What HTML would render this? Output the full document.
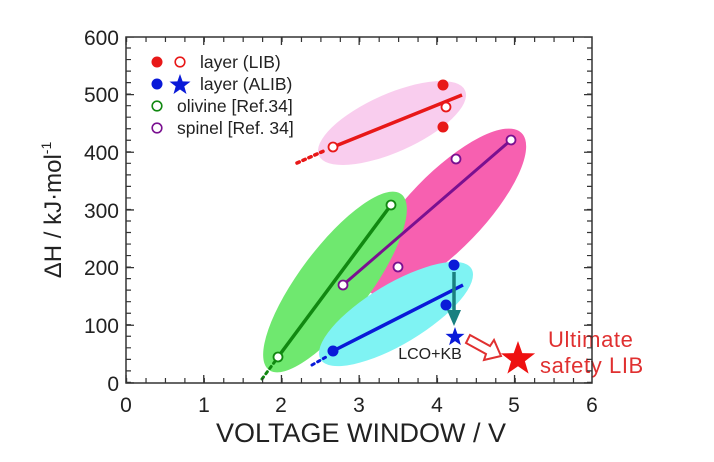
<!DOCTYPE html>
<html><head><meta charset="utf-8"><style>
html,body{margin:0;padding:0;background:#fff;}
svg{display:block;font-family:"Liberation Sans",Arial,sans-serif;}
</style></head><body>
<svg width="714" height="462" viewBox="0 0 714 462" xmlns="http://www.w3.org/2000/svg">
<ellipse cx="392" cy="123" rx="80" ry="29" transform="rotate(-24 392 123)" fill="#f8c8ec" opacity="0.9"/>
<ellipse cx="445" cy="212" rx="110" ry="38" transform="rotate(-46 445 212)" fill="#f760b0"/>
<ellipse cx="335" cy="282" rx="110" ry="35" transform="rotate(-53 335 282)" fill="#6fe86f"/>
<ellipse cx="396" cy="314" rx="88" ry="30" transform="rotate(-31 396 314)" fill="#7ff3f3"/>
<line x1="333" y1="147" x2="462" y2="95" stroke="#e81818" stroke-width="3.5"/>
<line x1="297" y1="163" x2="326" y2="150" stroke="#e81818" stroke-width="3.5" stroke-dasharray="2.5 4" stroke-linecap="round"/>
<line x1="343" y1="285" x2="511" y2="140" stroke="#7a1090" stroke-width="3"/>
<line x1="278" y1="357" x2="391" y2="205" stroke="#118811" stroke-width="3.5"/>
<line x1="262" y1="379" x2="276" y2="360" stroke="#118811" stroke-width="3" stroke-dasharray="2.5 4" stroke-linecap="round"/>
<line x1="333" y1="351" x2="463" y2="285" stroke="#0a1ad8" stroke-width="3.5"/>
<line x1="312" y1="365" x2="326" y2="357" stroke="#0a1ad8" stroke-width="3" stroke-dasharray="2.5 4" stroke-linecap="round"/>
<g fill="#e81818"><circle cx="443" cy="85" r="5.5"/><circle cx="443" cy="127" r="5.5"/></g>
<g fill="#fff" stroke="#e81818" stroke-width="1.8"><circle cx="333" cy="147" r="4.5"/><circle cx="446" cy="107" r="4.5"/></g>
<g fill="#fff" stroke="#7a1090" stroke-width="1.8"><circle cx="343" cy="285" r="4.5"/><circle cx="398" cy="267" r="4.5"/><circle cx="456" cy="159" r="4.5"/><circle cx="511" cy="140" r="4.5"/></g>
<g fill="#fff" stroke="#118811" stroke-width="1.8"><circle cx="278" cy="357" r="4.5"/><circle cx="391" cy="205" r="4.5"/></g>
<g fill="#0a1ad8"><circle cx="333" cy="351" r="5.5"/><circle cx="446" cy="305" r="5.5"/><circle cx="454" cy="265" r="5.5"/></g>
<line x1="454" y1="272" x2="454" y2="314" stroke="#1a8080" stroke-width="3.5"/>
<polygon points="447,310 461,310 454,326" fill="#1a8080"/>
<polygon points="455,327 457.4,333.7 464.5,333.9 458.9,338.3 460.9,345.1 455,341.1 449.1,345.1 451.1,338.3 445.5,333.9 452.6,333.7" fill="#0a1ad8"/>
<text x="430" y="359" font-size="16" text-anchor="middle" fill="#222">LCO+KB</text>
<polygon points="470,335 490,346 494,340 501,356 484,360 486,354 466,343" fill="#fff" stroke="#e03030" stroke-width="2"/>
<polygon points="518,341 522.3,353.1 535.1,353.4 524.9,361.2 528.6,373.6 518,366.2 507.4,373.6 511.1,361.2 500.9,353.4 513.7,353.1" fill="#ee1111"/>
<text x="548" y="347" font-size="22" fill="#e03030" letter-spacing="0.6">Ultimate</text>
<text x="540" y="373" font-size="22" fill="#e03030" letter-spacing="0.6">safety LIB</text>
<rect x="126" y="37" width="466" height="346" fill="none" stroke="#333" stroke-width="1.5"/>
<line x1="128.5" y1="383" x2="128.5" y2="37" stroke="#333" stroke-width="5" stroke-dasharray="1.2 10.33"/>
<line x1="130" y1="383.6" x2="130" y2="37" stroke="#333" stroke-width="8" stroke-dasharray="1.3 56.37"/>
<line x1="589.5" y1="383" x2="589.5" y2="37" stroke="#333" stroke-width="5" stroke-dasharray="1.2 10.33"/>
<line x1="588" y1="383.6" x2="588" y2="37" stroke="#333" stroke-width="8" stroke-dasharray="1.3 56.37"/>
<line x1="126" y1="380.5" x2="592" y2="380.5" stroke="#333" stroke-width="5" stroke-dasharray="1.2 18.23"/>
<line x1="125.4" y1="379" x2="592" y2="379" stroke="#333" stroke-width="8" stroke-dasharray="1.3 76.4"/>
<line x1="126" y1="39.5" x2="592" y2="39.5" stroke="#333" stroke-width="5" stroke-dasharray="1.2 18.23"/>
<line x1="125.4" y1="41" x2="592" y2="41" stroke="#333" stroke-width="8" stroke-dasharray="1.3 76.4"/>
<g font-size="21" fill="#222" text-anchor="end">
<text x="119" y="391">0</text><text x="119" y="333">100</text><text x="119" y="275">200</text>
<text x="119" y="218">300</text><text x="119" y="160">400</text><text x="119" y="102">500</text><text x="119" y="45">600</text>
</g>
<g font-size="21" fill="#222" text-anchor="middle">
<text x="126" y="412">0</text><text x="204" y="412">1</text><text x="281" y="412">2</text><text x="359" y="412">3</text>
<text x="437" y="412">4</text><text x="514" y="412">5</text><text x="592" y="412">6</text>
</g>
<text x="361" y="442" font-size="27" fill="#222" text-anchor="middle">VOLTAGE WINDOW / V</text>
<text transform="translate(61 210) rotate(-90)" font-size="24" fill="#222" text-anchor="middle">ΔH / kJ·mol<tspan dy="-10" font-size="14">-1</tspan></text>
<circle cx="157" cy="62" r="5.5" fill="#e81818"/>
<circle cx="180" cy="62" r="4.8" fill="#fff" stroke="#e81818" stroke-width="1.6"/>
<text x="200" y="68" font-size="17.5" fill="#222">layer (LIB)</text>
<circle cx="157" cy="84" r="5.5" fill="#0a1ad8"/>
<polygon points="180,74 182.6,81.4 190.5,81.6 184.3,86.4 186.5,94 180,89.5 173.5,94 175.7,86.4 169.5,81.6 177.4,81.4" fill="#0a1ad8"/>
<text x="200" y="90" font-size="17.5" fill="#222">layer (ALIB)</text>
<circle cx="157" cy="106" r="4.8" fill="#fff" stroke="#118811" stroke-width="1.6"/>
<text x="177" y="112" font-size="17.5" fill="#222">olivine [Ref.34]</text>
<circle cx="157" cy="128" r="4.8" fill="#fff" stroke="#7a1090" stroke-width="1.6"/>
<text x="177" y="134" font-size="17.5" fill="#222">spinel [Ref. 34]</text>
</svg>
</body></html>
